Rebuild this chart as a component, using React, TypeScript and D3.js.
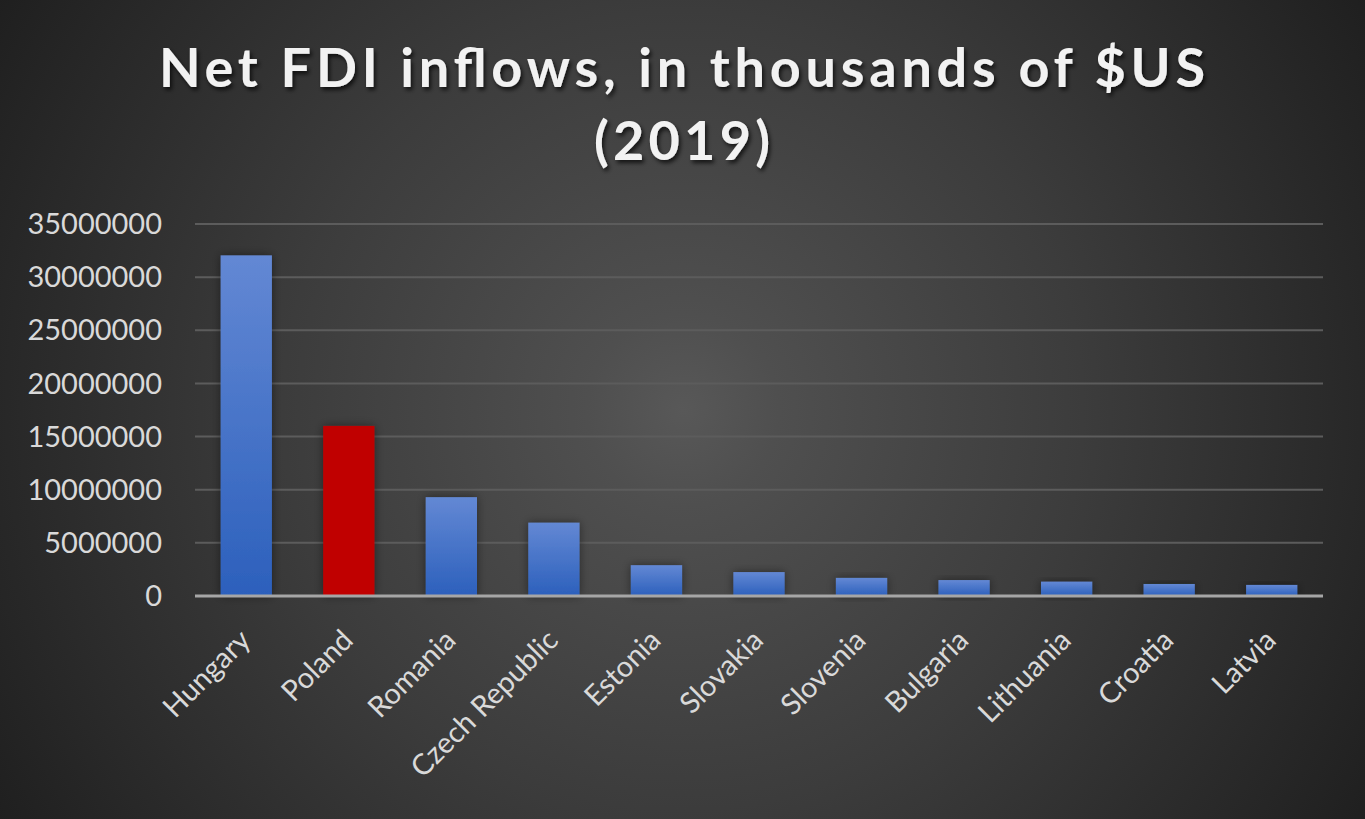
import React, { useEffect, useRef } from "react";
import * as d3 from "d3";

// values (thousands of $US, 2019)
const countries = ["Hungary", "Poland", "Romania", "Czech Republic", "Estonia", "Slovakia", "Slovenia", "Bulgaria", "Lithuania", "Croatia", "Latvia"];
const inflows = [32050000, 16000000, 9300000, 6900000, 2900000, 2250000, 1700000, 1500000, 1350000, 1130000, 1040000];
const highlighted = ["Poland"];
const yTicks = [0, 5000000, 10000000, 15000000, 20000000, 25000000, 30000000, 35000000];
const titleLines = ["Net FDI inflows, in thousands of $US", "(2019)"];

const W = 1365;
const H = 819;

export default function App() {
    const ref = useRef<SVGSVGElement>(null);

    useEffect(() => {
        const svg = d3.select(ref.current);
        svg.selectAll("*").remove();

        const m = { left: 195, right: 42, top: 224, bottom: 223 };

        const x = d3.scaleBand<string>().domain(countries).range([m.left, W - m.right]).paddingInner(0.5).paddingOuter(0.25);
        const y = d3.scaleLinear().domain([0, 35000000]).range([H - m.bottom, m.top]);

        const defs = svg.append("defs");

        const bg = defs.append("radialGradient").attr("id", "bg")
            .attr("gradientUnits", "userSpaceOnUse")
            .attr("cx", 683).attr("cy", 410).attr("r", 800);
        bg.append("stop").attr("offset", 0).attr("stop-color", "#585858");
        bg.append("stop").attr("offset", 0.12).attr("stop-color", "#4f4f4f");
        bg.append("stop").attr("offset", 0.5).attr("stop-color", "#3c3c3c");
        bg.append("stop").attr("offset", 1).attr("stop-color", "#1f1f1f");

        const blue = defs.append("linearGradient").attr("id", "blue")
            .attr("x1", 0).attr("y1", 0).attr("x2", 0).attr("y2", 1);
        blue.append("stop").attr("offset", 0).attr("stop-color", "#6388d4");
        blue.append("stop").attr("offset", 1).attr("stop-color", "#2c60bc");

        const sh = defs.append("filter").attr("id", "sh")
            .attr("x", "-30%").attr("y", "-30%").attr("width", "160%").attr("height", "160%");
        sh.append("feDropShadow").attr("dx", 0).attr("dy", 0).attr("stdDeviation", 5)
            .attr("flood-color", "#000").attr("flood-opacity", 0.45);

        const tsh = defs.append("filter").attr("id", "tsh")
            .attr("x", "-10%").attr("y", "-30%").attr("width", "120%").attr("height", "160%");
        tsh.append("feDropShadow").attr("dx", 2).attr("dy", 3).attr("stdDeviation", 2)
            .attr("flood-color", "#000").attr("flood-opacity", 0.7);

        svg.append("rect")
            .attr("width", W).attr("height", H)
            .style("fill", "url(#bg)");

        // gridlines
        svg.selectAll("line.grid")
            .data(yTicks.filter(d => d > 0))
            .enter()
            .append("line")
                .attr("class", "grid")
                .attr("x1", m.left).attr("x2", W - m.right)
                .attr("y1", d => y(d)).attr("y2", d => y(d))
                .style("stroke", "#5c5c5c")
                .style("stroke-width", 2);

        // y tick labels
        svg.selectAll("text.ytick")
            .data(yTicks)
            .enter()
            .append("text")
                .attr("class", "ytick")
                .attr("x", 162)
                .attr("y", d => y(d))
                .attr("dy", "0.35em")
                .attr("text-anchor", "end")
                .style("font-family", "Lato, 'Open Sans', sans-serif")
                .style("font-size", "29px")
                .style("fill", "#d9d9d9")
                .text(d => String(d));

        // bars
        svg.selectAll("rect.bar")
            .data(countries)
            .enter()
            .append("rect")
                .attr("class", "bar")
                .attr("x", d => x(d)!)
                .attr("width", x.bandwidth())
                .attr("y", (d, i) => y(inflows[i]))
                .attr("height", (d, i) => y(0) - y(inflows[i]))
                .attr("filter", "url(#sh)")
                .style("fill", d => highlighted.includes(d) ? "#c00000" : "url(#blue)");

        // x axis line
        svg.append("line")
            .attr("x1", m.left).attr("x2", W - m.right)
            .attr("y1", y(0)).attr("y2", y(0))
            .style("stroke", "#a6a6a6")
            .style("stroke-width", 3);

        // category labels
        svg.selectAll("text.xtick")
            .data(countries)
            .enter()
            .append("text")
                .attr("class", "xtick")
                .attr("transform", d => `translate(${x(d)! + x.bandwidth() / 2 + 6},${y(0) + 46}) rotate(-45)`)
                .attr("text-anchor", "end")
                .style("font-family", "Lato, 'Open Sans', sans-serif")
                .style("font-size", "29px")
                .style("fill", "#d9d9d9")
                .text(d => d);

        // title
        svg.selectAll("text.title")
            .data(titleLines)
            .enter()
            .append("text")
                .attr("class", "title")
                .attr("x", 682)
                .attr("y", (d, i) => 87 + i * 73)
                .attr("text-anchor", "middle")
                .attr("textLength", (d, i) => i === 0 ? 1046 : 176)
                .attr("lengthAdjust", "spacing")
                .attr("filter", "url(#tsh)")
                .style("font-family", "Lato, 'Open Sans', sans-serif")
                .style("font-weight", "bold")
                .style("font-size", "54px")
                .style("fill", "#f2f2f2")
                .text(d => d);
    }, []);

    return (
        <svg ref={ref} width={W} height={H}
            style={{ position: "absolute", left: 0, top: 0, display: "block" }}></svg>
    );
}
